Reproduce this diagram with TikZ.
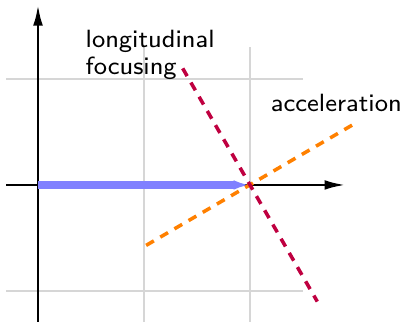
\documentclass[tikz,border=0pt]{standalone}
\usetikzlibrary{arrows.meta}
\begin{document}
\begin{tikzpicture}[x=1cm,y=1cm,
  gridline/.style={draw=black!16, line width=0.3pt},
  axis/.style={draw=black, line width=0.7pt, -{Latex[length=5.6pt,width=2.6pt]}},
  beam/.style={draw=blue!50, line width=2pt, -{Latex[length=4.4pt,width=2.6pt]}},
  focline/.style={draw=purple, line width=0.95pt, dash pattern=on 2.4pt off 2pt},
  accline/.style={draw=orange, line width=0.95pt, dash pattern=on 2.4pt off 2pt},
  lbl/.style={font=\sffamily\fontsize{6.7}{7.3}\selectfont, inner sep=0pt, align=left}]
\useasboundingbox (-0.3585,-1.2925) rectangle (3.434,1.745);
\draw[gridline] (-0.3,-1.3) grid[step=1] (2.5,1.3);
\coordinate (xs) at (-0.3,0);
\coordinate (xe) at (2.9,0);
\coordinate (ys) at (0,-1.3);
\coordinate (ye) at (0,1.7);
\coordinate (o) at (0,0);
\coordinate (p) at (2,0);
\coordinate (f1) at (1.365,1.1);
\coordinate (f2) at (2.635,-1.1);
\coordinate (a1) at (1.02,-0.57);
\coordinate (a2) at (2.99,0.58);
\draw[axis] (xs) -- (xe);
\draw[axis] (ys) -- (ye);
\draw[beam] (o) -- (p);
\draw[accline] (a1) -- (a2);
\draw[focline] (f1) -- (f2);
\node[lbl, anchor=base west] (lf) at (0.443,1.04) {longitudinal\\focusing};
\node[lbl, anchor=base west] (la) at (2.19,0.69) {acceleration};
\end{tikzpicture}
\end{document}
